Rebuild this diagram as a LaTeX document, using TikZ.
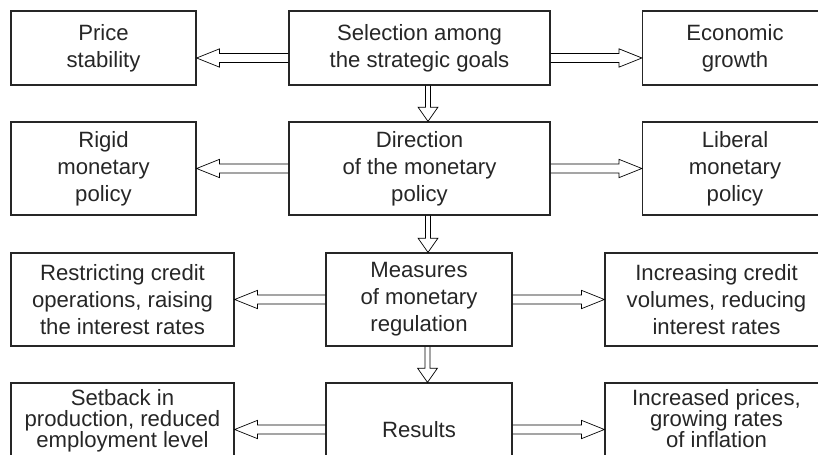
\documentclass[tikz,border=0pt]{standalone}
\usepackage{fontspec}
\setmainfont{Liberation Sans}
\usetikzlibrary{
    calc,
    positioning
}

\begin{document}
\begin{tikzpicture}[x=0.02cm,y=-0.02cm,
    box/.style={draw=black!85,line width=0.7pt,align=center,
        inner sep=0pt,text=black!85,
        font=\fontsize{12.6}{15.3}\selectfont},
    tight/.style={font=\fontsize{12.6}{12}\selectfont},
    % hollow double arrow: half gap, head length, head half width
    link/.style n args={3}{draw=black!85,line width=0.6pt,to path={
        ($(\tikztostart)!#1!90:(\tikztotarget)$)
        -- ($(\tikztotarget)!#2!(\tikztostart)!#1!90:(\tikztotarget)$)
        -- ($(\tikztotarget)!#2!(\tikztostart)!#3!90:(\tikztotarget)$)
        -- (\tikztotarget)
        -- ($(\tikztotarget)!#2!(\tikztostart)!#3!-90:(\tikztotarget)$)
        -- ($(\tikztotarget)!#2!(\tikztostart)!#1!-90:(\tikztotarget)$)
        -- ($(\tikztostart)!#1!-90:(\tikztotarget)$)}},
    hlink/.style={link={2.55pt}{13pt}{5.2pt}},
    vlink/.style={link={1.4pt}{8pt}{5.6pt}}
]
    \clip (0,0) rectangle (818,455);
    % strategic goals
    \node[box,minimum width=5.22cm,minimum height=1.48cm] (sel) at (419.5,48)
        {Selection among\\the strategic goals};
    \node[box,minimum width=3.7cm,minimum height=1.48cm] (price) at (103.5,48)
        {Price\\stability};
    \node[box,minimum width=3.7cm,minimum height=1.48cm] (growth) at (735,48)
        {Economic\\growth};
    % direction
    \node[box,minimum width=5.22cm,minimum height=1.86cm] (dir) at (419.5,168.5)
        {Direction\\of the monetary\\policy};
    \node[box,minimum width=3.7cm,minimum height=1.86cm] (rigid) at (103.5,168.5)
        {Rigid\\monetary\\policy};
    \node[box,minimum width=3.7cm,minimum height=1.86cm] (liberal) at (735,168.5)
        {Liberal\\monetary\\policy};
    % measures
    \node[box,minimum width=3.72cm,minimum height=1.86cm] (meas) at (419,299.5)
        {Measures\\of monetary\\regulation};
    \node[box,minimum width=4.46cm,minimum height=1.86cm] (restr) at (122.5,299.5)
        {Restricting credit\\operations, raising\\the interest rates};
    \node[box,minimum width=4.46cm,minimum height=1.86cm] (incr) at (716.5,299.5)
        {Increasing credit\\volumes, reducing\\interest rates};
    % results
    \node[box,minimum width=3.72cm,minimum height=1.86cm] (res) at (419,429.5)
        {Results};
    \node[box,tight,minimum width=4.46cm,minimum height=1.86cm] (setb) at (122.5,429.5)
        {Setback in\\production, reduced\\employment level\\[1pt]};
    \node[box,tight,minimum width=4.46cm,minimum height=1.86cm] (infl) at (716.5,429.5)
        {Increased prices,\\growing rates\\of inflation\\[1pt]};

    \draw ([yshift=-0.2cm]sel.west) to[hlink] ([yshift=-0.2cm]price.east);
    \draw ([yshift=-0.2cm]sel.east) to[hlink] ([yshift=-0.2cm]growth.west);
    \draw ([xshift=0.17cm]sel.south) to[vlink] ([xshift=0.17cm]sel.south |- dir.north);
    \draw (dir.west) to[hlink] (rigid.east);
    \draw (dir.east) to[hlink] (liberal.west);
    \draw ([xshift=0.17cm]dir.south) to[vlink] ([xshift=0.17cm]dir.south |- meas.north);
    \draw (meas.west) to[hlink] (restr.east);
    \draw (meas.east) to[hlink] (incr.west);
    \draw ([xshift=0.17cm]meas.south) to[vlink] ([xshift=0.17cm]meas.south |- res.north);
    \draw (res.west) to[hlink] (setb.east);
    \draw (res.east) to[hlink] (infl.west);
\end{tikzpicture}
\end{document}
